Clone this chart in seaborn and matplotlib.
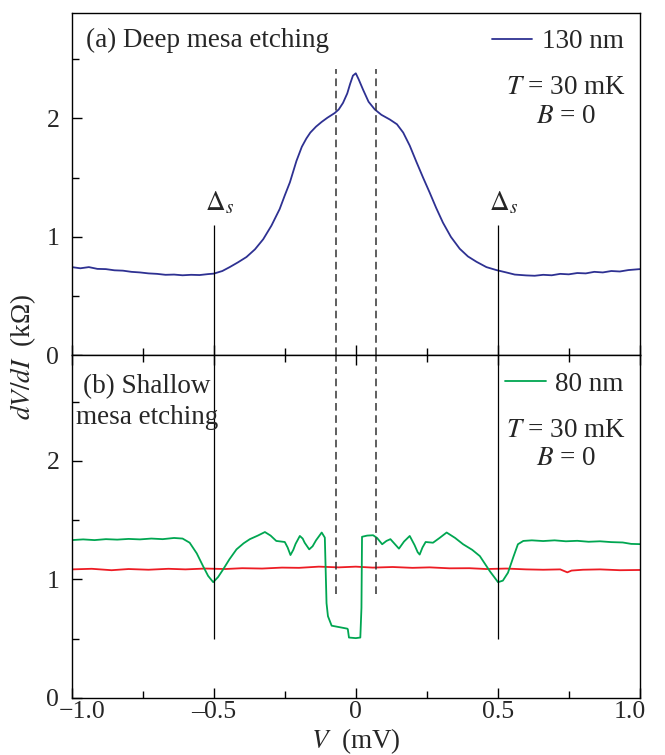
import numpy as np
import pandas as pd
import matplotlib
matplotlib.use("Agg")
import matplotlib.pyplot as plt
import matplotlib.transforms as mtransforms
from matplotlib.ticker import MultipleLocator
import seaborn as sns

# (a) deep mesa etching, 130 nm
v_deep = [-1.0, -0.97, -0.94, -0.91, -0.88, -0.85, -0.82, -0.79, -0.76, -0.73, -0.70, -0.67,
          -0.64, -0.61, -0.58, -0.55, -0.52, -0.50, -0.47, -0.444, -0.415, -0.385, -0.355,
          -0.326, -0.297, -0.268, -0.25, -0.232, -0.209, -0.19, -0.174, -0.16, -0.14, -0.12, -0.10,
          -0.074, -0.06, -0.045, -0.03, -0.02, -0.01, 0.0, 0.01, 0.026, 0.045, 0.067, 0.09,
          0.12, 0.145, 0.167, 0.19, 0.214, 0.237, 0.26, 0.283, 0.307, 0.335, 0.366, 0.395,
          0.425, 0.46, 0.495, 0.53, 0.56, 0.60, 0.63, 0.66, 0.69, 0.72, 0.75, 0.78, 0.81,
          0.84, 0.87, 0.90, 0.93, 0.96, 1.0]
r_deep = [0.745, 0.735, 0.745, 0.730, 0.728, 0.718, 0.715, 0.705, 0.700, 0.692, 0.688, 0.680,
          0.682, 0.676, 0.680, 0.678, 0.686, 0.690, 0.712, 0.745, 0.785, 0.830, 0.895,
          0.980, 1.095, 1.235, 1.35, 1.46, 1.64, 1.76, 1.83, 1.88, 1.93, 1.97, 2.005,
          2.045, 2.075, 2.13, 2.21, 2.29, 2.36, 2.38, 2.33, 2.24, 2.14, 2.075, 2.03,
          1.99, 1.95, 1.88, 1.77, 1.63, 1.50, 1.375, 1.245, 1.12, 1.00, 0.90, 0.835,
          0.79, 0.745, 0.720, 0.700, 0.682, 0.675, 0.672, 0.680, 0.676, 0.688, 0.684, 0.695, 0.692,
          0.705, 0.700, 0.712, 0.708, 0.720, 0.728]

# (b) shallow mesa etching, 80 nm (green) and reference trace (red)
v_shallow = [-1.0, -0.96, -0.92, -0.88, -0.84, -0.80, -0.76, -0.72, -0.68, -0.64, -0.61,
             -0.585, -0.56, -0.538, -0.52, -0.502, -0.485, -0.467, -0.445, -0.42, -0.395,
             -0.373, -0.345, -0.32, -0.30, -0.28, -0.25, -0.24, -0.23, -0.22, -0.212, -0.197,
             -0.187, -0.18, -0.164, -0.152, -0.14, -0.12, -0.109, -0.103, -0.098, -0.085, -0.03,
             -0.028, -0.024, 0.0, 0.016, 0.02, 0.022, 0.04, 0.061, 0.075, 0.093, 0.108, 0.122,
             0.137, 0.152, 0.17, 0.19, 0.207, 0.218, 0.225, 0.235, 0.246, 0.272, 0.295, 0.32,
             0.35, 0.378, 0.41, 0.437, 0.472, 0.501, 0.518, 0.536, 0.555, 0.571, 0.59, 0.62,
             0.66, 0.70, 0.74, 0.78, 0.82, 0.86, 0.90, 0.94, 0.97, 1.0]
r_shallow = [1.332, 1.338, 1.332, 1.340, 1.336, 1.342, 1.338, 1.345, 1.340, 1.350, 1.345,
             1.31, 1.22, 1.113, 1.03, 0.977, 1.02, 1.085, 1.17, 1.254, 1.305,
             1.34, 1.37, 1.40, 1.37, 1.325, 1.316, 1.27, 1.206, 1.25, 1.30, 1.367,
             1.345, 1.31, 1.254, 1.28, 1.33, 1.396, 1.353, 0.80, 0.69, 0.61, 0.585,
             0.58, 0.51, 0.505, 0.51, 0.76, 1.36, 1.37, 1.373, 1.35, 1.297, 1.325, 1.34,
             1.30, 1.26, 1.32, 1.367, 1.29, 1.23, 1.21, 1.27, 1.316, 1.31, 1.35, 1.396,
             1.35, 1.297, 1.25, 1.197, 1.07, 0.977, 0.99, 1.057, 1.19, 1.297, 1.325, 1.330,
             1.324, 1.330, 1.322, 1.326, 1.318, 1.322, 1.315, 1.312, 1.300, 1.298]
v_ref = [-1.0, -0.93, -0.86, -0.8, -0.73, -0.66, -0.6, -0.53, -0.46, -0.4, -0.33, -0.26,
         -0.2, -0.13, -0.06, 0.0, 0.06, 0.13, 0.2, 0.26, 0.33, 0.4, 0.46, 0.53, 0.6, 0.66,
         0.72, 0.745, 0.76, 0.8, 0.86, 0.93, 1.0]
r_ref = [1.085, 1.09, 1.078, 1.088, 1.082, 1.09, 1.085, 1.092, 1.088, 1.095, 1.092, 1.10,
         1.098, 1.108, 1.102, 1.108, 1.100, 1.105, 1.098, 1.102, 1.094, 1.095, 1.088, 1.092, 1.085, 1.082,
         1.085, 1.06, 1.075, 1.082, 1.085, 1.078, 1.08]

x_ticks = [-1.0, -0.5, 0.0, 0.5, 1.0]
x_ticklabels = ["\u22121.0", "\u20130.5", "0", "0.5", "1.0"]
delta_s = 0.5
dash_pos = 0.07

sns.set_theme(style="ticks")
plt.rcParams['font.family'] = ['Liberation Serif', 'DejaVu Serif']
plt.rcParams['mathtext.fontset'] = 'stix'
plt.rcParams.update({
    'font.size': 19.5,
    'xtick.labelsize': 18.5,
    'ytick.labelsize': 18.5,
    'xtick.direction': 'in',
    'ytick.direction': 'in',
    'axes.edgecolor': 'black',
    'axes.linewidth': 1.0,
})

df_deep = pd.DataFrame({'V': v_deep, 'R': r_deep})
df_sh = pd.DataFrame({'V': v_shallow, 'R': r_shallow})
df_ref = pd.DataFrame({'V': v_ref, 'R': r_ref})

fig, (ax1, ax2) = plt.subplots(2, 1, sharex=True, figsize=(6.65, 7.55), dpi=100)
fig.subplots_adjust(left=0.108, right=0.962, top=0.983, bottom=0.0755, hspace=0)

ymax = 2.89
sns.lineplot(data=df_deep, x='V', y='R', ax=ax1, color='#2e3192', lw=1.3, label='130 nm')
sns.lineplot(data=df_ref, x='V', y='R', ax=ax2, color='#ed1c24', lw=1.3, legend=False)
sns.lineplot(data=df_sh, x='V', y='R', ax=ax2, color='#00a651', lw=1.3, label='80 nm')

# gap markers
ax1.vlines([-delta_s, delta_s], 0, 1.1, color='black', lw=0.9)
ax2.vlines([-delta_s, delta_s], 0.5, ymax, color='black', lw=0.9)
ax1.vlines([-dash_pos, dash_pos], 0, 2.42, color='#333333', lw=1.1, linestyles=(0, (5, 3)))
ax2.vlines([-dash_pos, dash_pos], 0.88, ymax, color='#333333', lw=1.1, linestyles=(0, (5, 3)))
for xs in (-delta_s, delta_s):
    ax1.text(xs + 0.02, 1.17, r'$\Delta_s$', ha='center', va='bottom', fontsize=19.5)

for ax in (ax1, ax2):
    ax.set_xlim(-1.0, 1.0)
    ax.set_ylim(0, ymax)
    ax.set_yticks([0, 1, 2])
    ax.yaxis.set_minor_locator(MultipleLocator(0.5))
    ax.xaxis.set_minor_locator(MultipleLocator(0.25))
    ax.tick_params(which='major', length=7, width=1, color='black')
    ax.tick_params(which='minor', length=5, width=1, color='black')
    ax.set_xlabel('')
    ax.set_ylabel('')
    ax.legend(loc='upper right', frameon=False, handlelength=1.5, handletextpad=0.35,
              borderaxespad=0.2, fontsize=19.5)
    ax.text(0.87, 0.74, '$T$ = 30 mK\n$B$ = 0', transform=ax.transAxes, ha='center',
            va='center', fontsize=19.5, linespacing=1.2)
    ax.tick_params(axis='y', pad=9)

ax1.tick_params(axis='x', which='both', top=False, bottom=True, labelbottom=False)
ax2.tick_params(axis='x', which='both', top=True, bottom=True)
ax2.set_xticks(x_ticks)
ax2.set_xticklabels(x_ticklabels)
ax2.tick_params(axis='x', pad=2)

# pull the end labels inward like the original
ticks = ax2.xaxis.get_major_ticks()
for tk, dx in ((ticks[0], 0.1), (ticks[-1], -0.1)):
    lbl = tk.label1
    lbl.set_transform(lbl.get_transform() + mtransforms.ScaledTranslation(dx, 0, fig.dpi_scale_trans))

ax1.text(0.025, 0.955, '(a) Deep mesa etching', transform=ax1.transAxes, ha='left', va='top')
ax2.text(0.132, 0.945, '(b) Shallow\nmesa etching', transform=ax2.transAxes, ha='center',
         va='top', multialignment='center', linespacing=1.3)

# axis titles placed on the figure
fig.text(0.535, 0.018, '$V$  (mV)', ha='center', va='center', fontsize=19.5)
fig.text(0.035, 0.527, '$dV/dI$  (k\u03a9)', rotation=90, ha='center', va='center', fontsize=19.5)

fig.savefig('out.png', dpi=100)
